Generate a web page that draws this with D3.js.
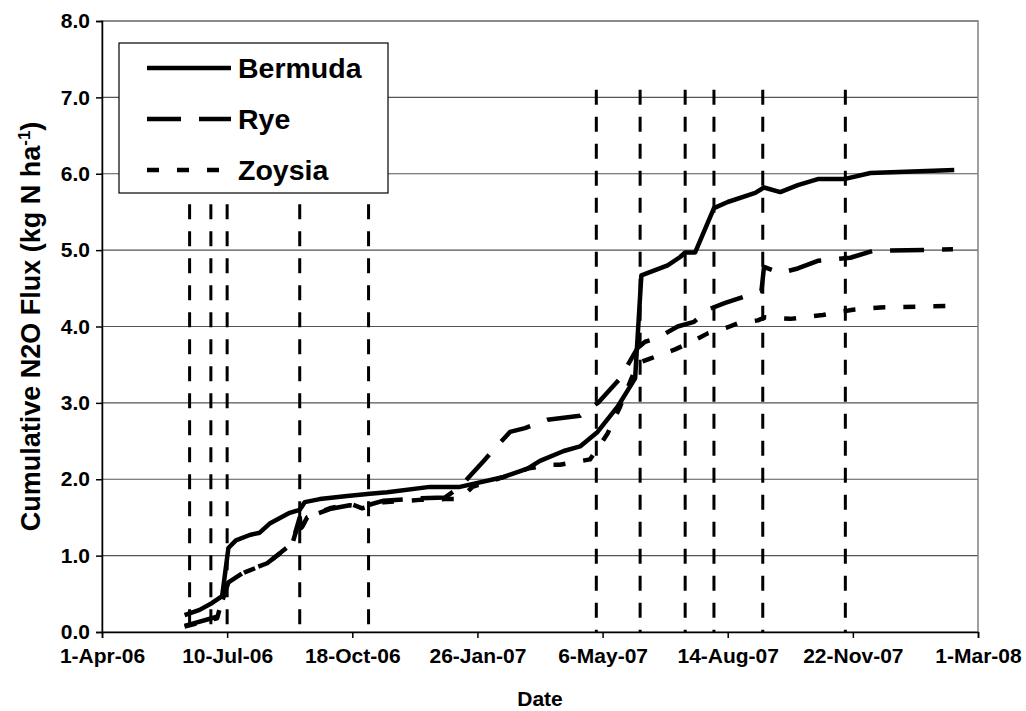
<!DOCTYPE html>
<html>
<head>
<meta charset="utf-8">
<script src="https://cdn.jsdelivr.net/npm/d3@7"></script>
<style>
  html, body { margin: 0; padding: 0; background: #fff; }
  svg { display: block; }
  text { font-family: "Liberation Sans", Arial, sans-serif; font-weight: bold; fill: #000; }
</style>
</head>
<body>
<svg id="chart" width="1026" height="711"></svg>
<script>
// ---------------- DATA ----------------
const xTickLabels = ["2006-04-01","2006-07-10","2006-10-18","2007-01-26","2007-05-06","2007-08-14","2007-11-22","2008-03-01"];
const yTickValues = [0,1,2,3,4,5,6,7,8];

const bermudaDates = ["2006-06-06","2006-06-18","2006-06-28","2006-07-06","2006-07-11","2006-07-17","2006-07-28","2006-08-05","2006-08-13","2006-08-29","2006-09-06","2006-09-10","2006-09-22","2006-10-14","2006-11-01","2006-11-15","2006-12-19","2007-01-12","2007-02-16","2007-03-07","2007-03-17","2007-04-05","2007-04-18","2007-05-02","2007-05-18","2007-06-01","2007-06-06","2007-06-27","2007-07-07","2007-07-11","2007-07-19","2007-08-03","2007-08-14","2007-09-05","2007-09-12","2007-09-25","2007-10-09","2007-10-25","2007-11-15","2007-12-06","2008-02-11"];
const bermudaValues = [0.22,0.29,0.38,0.47,1.10,1.20,1.27,1.30,1.42,1.56,1.60,1.70,1.74,1.78,1.81,1.83,1.90,1.90,2.03,2.14,2.24,2.37,2.43,2.62,2.95,3.32,4.67,4.80,4.91,4.97,4.97,5.55,5.63,5.75,5.82,5.76,5.85,5.93,5.93,6.01,6.05];

const ryeDates = ["2006-06-06","2006-07-02","2006-07-07","2006-07-11","2006-07-24","2006-08-11","2006-08-31","2006-09-06","2006-09-07","2006-09-12","2006-09-30","2006-10-16","2006-10-26","2006-11-12","2006-12-11","2006-12-31","2007-01-12","2007-01-31","2007-02-21","2007-03-05","2007-03-23","2007-04-18","2007-05-03","2007-05-20","2007-06-03","2007-06-09","2007-06-19","2007-07-05","2007-07-18","2007-07-29","2007-08-12","2007-09-07","2007-09-10","2007-09-12","2007-09-25","2007-10-09","2007-10-25","2007-11-20","2007-12-08","2008-02-10"];
const ryeValues = [0.08,0.20,0.45,0.65,0.79,0.90,1.16,1.50,1.36,1.50,1.61,1.66,1.64,1.72,1.75,1.76,1.90,2.24,2.62,2.67,2.78,2.83,3.01,3.32,3.72,3.80,3.85,4.00,4.06,4.22,4.31,4.45,4.47,4.78,4.70,4.76,4.86,4.90,4.99,5.01];

const zoysiaDates = ["2006-06-06","2006-07-02","2006-07-08","2006-07-12","2006-07-24","2006-08-11","2006-08-31","2006-09-06","2006-09-08","2006-09-12","2006-09-30","2006-10-16","2006-10-26","2006-11-12","2006-12-11","2006-12-31","2007-01-12","2007-01-22","2007-02-16","2007-03-07","2007-03-25","2007-04-02","2007-04-26","2007-05-06","2007-05-10","2007-05-20","2007-06-03","2007-06-13","2007-07-03","2007-07-11","2007-07-22","2007-07-29","2007-08-14","2007-08-22","2007-09-07","2007-09-13","2007-10-03","2007-10-29","2007-11-22","2007-12-14","2008-02-11"];
const zoysiaValues = [0.07,0.18,0.55,0.68,0.78,0.90,1.15,1.48,1.38,1.50,1.62,1.68,1.62,1.70,1.73,1.74,1.74,1.90,2.03,2.14,2.19,2.19,2.26,2.50,2.60,2.95,3.52,3.58,3.70,3.76,3.85,3.91,3.99,4.04,4.08,4.12,4.10,4.15,4.22,4.25,4.27];

// vertical event markers (date, top value)
const eventDates = ["2006-06-10","2006-06-27","2006-07-10","2006-09-06","2006-10-31","2007-05-01","2007-06-05","2007-07-11","2007-08-03","2007-09-11","2007-11-16"];
const eventTops = [5.6,5.6,5.6,5.6,5.6,7.1,7.1,7.1,7.1,7.1,7.1];

const seriesNames = ["Bermuda","Rye","Zoysia"];

// ---------------- CHART ----------------
(function () {
const parse = d3.utcParse("%Y-%m-%d");
const fmt = d3.utcFormat("%-d-%b-%y");
const svg = d3.select("#chart");

const pL = 102, pR = 978, pT = 21, pB = 632;
const x = d3.scaleUtc().domain([parse("2006-04-01"), parse("2008-03-01")]).range([pL, pR]);
const y = d3.scaleLinear().domain([0, 8]).range([pB, pT]);

// gridlines
svg.append("g").selectAll("line").data(yTickValues.filter(v => v > 0)).join("line")
  .attr("x1", pL).attr("x2", pR)
  .attr("y1", d => y(d)).attr("y2", d => y(d))
  .attr("stroke", "#555").attr("stroke-width", 1.2);

// plot frame
svg.append("rect").attr("x", pL).attr("y", pT).attr("width", pR - pL).attr("height", pB - pT)
  .attr("fill", "none").attr("stroke", "#808080").attr("stroke-width", 1.5);

// event lines
const events = eventDates.map((d, i) => ({ date: parse(d), top: eventTops[i] }));
svg.append("g").selectAll("line").data(events).join("line")
  .attr("x1", d => x(d.date)).attr("x2", d => x(d.date))
  .attr("y1", d => y(d.top)).attr("y2", y(0))
  .attr("stroke", "#000").attr("stroke-width", 3).attr("stroke-dasharray", "15,12");

// axes
const xAxis = d3.axisBottom(x).tickValues(xTickLabels.map(parse)).tickFormat(fmt).tickSize(6).tickPadding(10);
const gx = svg.append("g").attr("transform", `translate(0,${pB})`).call(xAxis);
gx.select(".domain").attr("stroke", "#000").attr("stroke-width", 1.5);
gx.selectAll(".tick line").attr("stroke", "#000").attr("stroke-width", 1.5);
gx.selectAll(".tick text").attr("font-size", 21).attr("font-family", "Liberation Sans, Arial, sans-serif").attr("font-weight", "bold");

const yAxis = d3.axisLeft(y).tickValues(yTickValues).tickFormat(d => d.toFixed(1)).tickSize(6).tickPadding(6);
const gy = svg.append("g").attr("transform", `translate(${pL},0)`).call(yAxis);
gy.select(".domain").attr("stroke", "#000").attr("stroke-width", 1.5);
gy.selectAll(".tick line").attr("stroke", "#000").attr("stroke-width", 1.5);
gy.selectAll(".tick text").attr("font-size", 21).attr("font-family", "Liberation Sans, Arial, sans-serif").attr("font-weight", "bold");

// series
const styles = { Bermuda: null, Rye: "34,18", Zoysia: "12,18" };
const series = [
  { name: "Bermuda", pts: bermudaDates.map((d, i) => [parse(d), bermudaValues[i]]) },
  { name: "Rye", pts: ryeDates.map((d, i) => [parse(d), ryeValues[i]]) },
  { name: "Zoysia", pts: zoysiaDates.map((d, i) => [parse(d), zoysiaValues[i]]) }
];
const line = d3.line().x(d => x(d[0])).y(d => y(d[1]));
svg.append("g").selectAll("path").data(series.slice().reverse()).join("path")
  .attr("d", d => line(d.pts))
  .attr("fill", "none").attr("stroke", "#000").attr("stroke-width", 4.5)
  .attr("stroke-linejoin", "round")
  .attr("stroke-dasharray", d => styles[d.name]);

// axis titles
svg.append("text").attr("x", (pL + pR) / 2).attr("y", 706).attr("text-anchor", "middle")
  .attr("font-size", 21).text("Date");
const yt = svg.append("text").attr("transform", `translate(40,${(pT + pB) / 2}) rotate(-90)`)
  .attr("text-anchor", "middle").attr("font-size", 27);
yt.append("tspan").text("Cumulative N2O Flux (kg N ha");
yt.append("tspan").attr("font-size", 17).attr("dy", -10).text("-1");
yt.append("tspan").attr("dy", 10).text(")");

// legend
const lg = svg.append("g");
lg.append("rect").attr("x", 119).attr("y", 43).attr("width", 269).attr("height", 150)
  .attr("fill", "#fff").attr("stroke", "#000").attr("stroke-width", 1.2);
const legY = [68, 119, 170];
seriesNames.forEach((name, i) => {
  lg.append("line").attr("x1", 147).attr("x2", 231).attr("y1", legY[i]).attr("y2", legY[i])
    .attr("stroke", "#000").attr("stroke-width", 4.5).attr("stroke-dasharray", styles[name]);
  lg.append("text").attr("x", 238).attr("y", legY[i] + 10).attr("font-size", 28.5).text(name);
});
})();
</script>
</body>
</html>
